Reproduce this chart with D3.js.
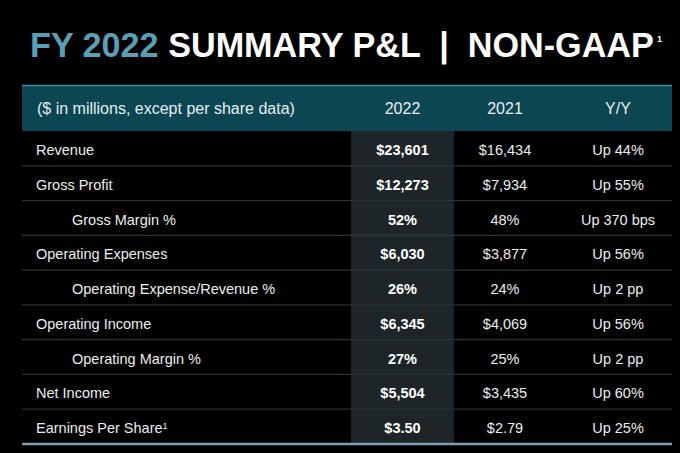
<!DOCTYPE html>
<html lang="en">
<head>
<meta charset="utf-8">
<title>FY 2022 Summary P&amp;L</title>
<script src="https://d3js.org/d3.v7.min.js"></script>
<style>
  body { margin: 0; background: #000; }
  svg { display: block; font-family: "Liberation Sans", Arial, sans-serif; }
</style>
</head>
<body>
<svg id="chart" width="680" height="453"></svg>
<script>
// table data
var labels = ["Revenue", "Gross Profit", "Gross Margin %", "Operating Expenses",
  "Operating Expense/Revenue %", "Operating Income", "Operating Margin %",
  "Net Income", "Earnings Per Share"];
var indented = [false, false, true, false, true, false, true, false, false];
var fy2022 = ["$23,601", "$12,273", "52%", "$6,030", "26%", "$6,345", "27%", "$5,504", "$3.50"];
var fy2021 = ["$16,434", "$7,934", "48%", "$3,877", "24%", "$4,069", "25%", "$3,435", "$2.79"];
var yoy = ["Up 44%", "Up 55%", "Up 370 bps", "Up 56%", "Up 2 pp", "Up 56%", "Up 2 pp", "Up 60%", "Up 25%"];
var columns = ["label", "2022", "2021", "Y/Y"];

var svg = d3.select('#chart');
var left = 22, right = 672, headTop = 85, headBot = 131, bodyBot = 444;

svg.append('rect').attr('width', 680).attr('height', 453).attr('fill', '#000');

// title: fit the main line, then place the footnote mark just after it
var title = svg.append('text')
  .attr('x', 30).attr('y', 57)
  .style('font-size', '35px').style('font-weight', 'bold')
  .attr('xml:space', 'preserve');
title.append('tspan').attr('fill', '#5a9fb5').text('FY 2022 ');
title.append('tspan').attr('fill', '#fff').text('SUMMARY P&L  |  NON-GAAP');
var natural = title.node().getComputedTextLength();
title.attr('transform', 'translate(30,0) scale(' + (624 / natural) + ',1) translate(-30,0)');
svg.append('text').attr('x', 30 + 624 + 3).attr('y', 42)
  .attr('fill', '#fff').style('font-size', '9px').style('font-weight', 'bold').text('1');

// column centres
var x = d3.scaleOrdinal().domain(columns).range([36, 402.5, 505, 618]);
var y = d3.scaleBand().domain(d3.range(labels.length)).range([headBot, bodyBot]);

// header band
svg.append('rect').attr('x', left).attr('y', headTop)
  .attr('width', right - left).attr('height', headBot - headTop).attr('fill', '#0c4653');
svg.append('line').attr('x1', left).attr('x2', right).attr('y1', headTop + 0.5).attr('y2', headTop + 0.5)
  .attr('stroke', '#4f8d9c').attr('stroke-width', 1.5);

var head = svg.append('g').attr('fill', '#e6eef0').style('font-size', '16px');
head.append('text').attr('x', 37).attr('y', (headTop + headBot) / 2).attr('dy', '0.35em')
  .text('($ in millions, except per share data)');
head.selectAll('text.col').data(columns.slice(1)).join('text')
  .attr('class', 'col')
  .attr('x', d => x(d)).attr('y', (headTop + headBot) / 2).attr('dy', '0.35em')
  .attr('text-anchor', 'middle').text(d => d);

// highlighted 2022 column
svg.append('rect').attr('x', 351).attr('y', headBot)
  .attr('width', 103).attr('height', bodyBot - headBot).attr('fill', '#1e2528');

// row separators
svg.selectAll('line.sep').data(d3.range(1, labels.length)).join('line')
  .attr('class', 'sep')
  .attr('x1', left).attr('x2', right)
  .attr('y1', d => y(d)).attr('y2', d => y(d))
  .attr('stroke', '#2c3134').attr('stroke-width', 1.2);

// bottom rule
svg.append('line').attr('x1', left).attr('x2', right).attr('y1', bodyBot).attr('y2', bodyBot)
  .attr('stroke', '#7f9db0').attr('stroke-width', 2.5);

// rows
var rows = svg.selectAll('g.row').data(labels).join('g')
  .attr('class', 'row')
  .attr('transform', (d, i) => 'translate(0,' + (y(i) + y.bandwidth() / 2 + 1.5) + ')')
  .style('font-size', '14.5px').attr('fill', '#ecedee');

var lab = rows.append('text')
  .attr('x', (d, i) => indented[i] ? 72 : x('label')).attr('dy', '0.35em')
  .text(d => d);
lab.filter((d, i) => i === labels.length - 1)
  .append('tspan').attr('dy', '-0.45em').style('font-size', '9px').text('1');

rows.append('text').attr('x', x('2022')).attr('dy', '0.35em').attr('text-anchor', 'middle')
  .style('font-weight', 'bold').attr('fill', '#fff').text((d, i) => fy2022[i]);
rows.append('text').attr('x', x('2021')).attr('dy', '0.35em').attr('text-anchor', 'middle')
  .text((d, i) => fy2021[i]);
rows.append('text').attr('x', x('Y/Y')).attr('dy', '0.35em').attr('text-anchor', 'middle')
  .text((d, i) => yoy[i]);
</script>
</body>
</html>
